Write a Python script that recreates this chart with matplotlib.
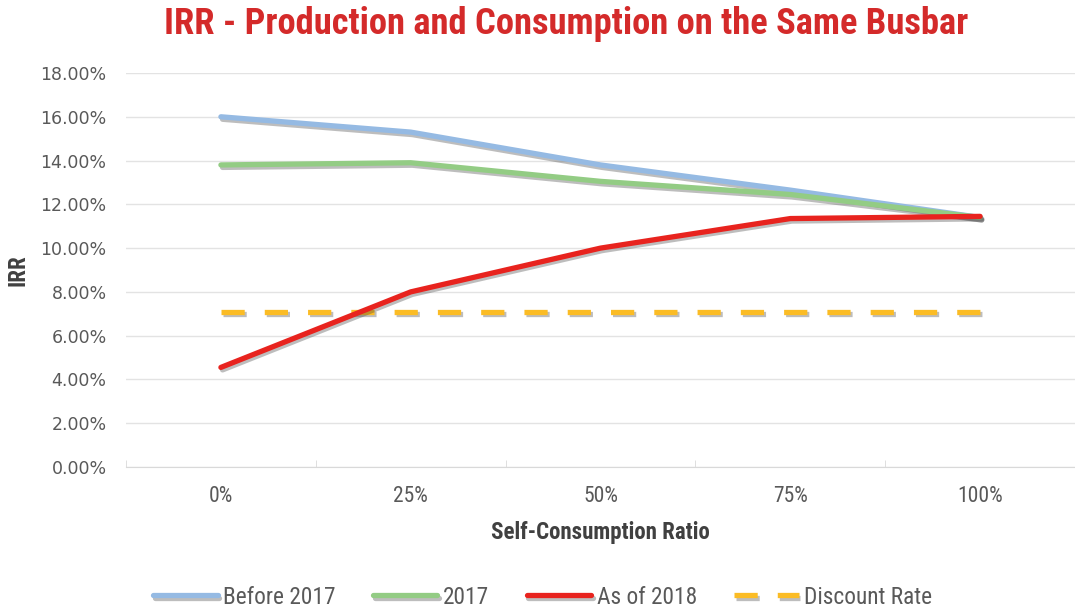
import matplotlib
matplotlib.use("Agg")
import matplotlib.pyplot as plt
import matplotlib.patheffects as pe
from matplotlib import font_manager as fm
from matplotlib.ticker import FuncFormatter

categories = ["0%", "25%", "50%", "75%", "100%"]
before_2017 = [16.0, 15.3, 13.8, 12.65, 11.4]
y2017 = [13.8, 13.9, 13.05, 12.45, 11.4]
as_of_2018 = [4.55, 8.0, 10.0, 11.35, 11.45]
discount_rate = [7.1, 7.1, 7.1, 7.1, 7.1]
yticks = [0, 2, 4, 6, 8, 10, 12, 14, 16, 18]

names = {f.name for f in fm.fontManager.ttflist}
narrow = "Open Sans"
for cand in ["Liberation Sans Narrow", "Roboto Condensed", "Open Sans Condensed"]:
    if cand in names:
        narrow = cand
        break

fig = plt.figure(figsize=(10.75, 6.1), dpi=100)
ax = fig.add_axes([126/1075, 1-467/610, 1-126/1075, (467-73)/610])

x = list(range(len(categories)))
shadow = [pe.SimpleLineShadow(offset=(1.2, -1.8), shadow_color="#444444", alpha=0.35), pe.Normal()]
lw = 3.8
ax.plot(x, before_2017, color="#95BAE3", lw=lw, solid_capstyle="round", path_effects=shadow, label="Before 2017", zorder=3)
ax.plot(x, y2017, color="#93CC84", lw=lw, solid_capstyle="round", path_effects=shadow, label="2017", zorder=4)
ax.plot(x, as_of_2018, color="#E8231E", lw=lw, solid_capstyle="round", path_effects=shadow, label="As of 2018", zorder=5)
ax.plot(x, discount_rate, color="#FBBC25", lw=lw, dashes=(4.4, 3.8), dash_capstyle="butt", path_effects=shadow, label="Discount Rate", zorder=2)

ax.set_xlim(-0.5, 4.5)
ax.set_ylim(0, 18)
ax.set_yticks(yticks)
ax.yaxis.set_major_formatter(FuncFormatter(lambda v, p: f"{v:.2f}%"))
ax.set_xticks(x)
ax.set_xticklabels(categories, fontfamily=narrow, fontsize=15.5, color="#595959")
ax.set_xticks([-0.5, 0.5, 1.5, 2.5, 3.5], minor=True)
ax.tick_params(axis="x", which="major", length=0, pad=14)
ax.tick_params(axis="x", which="minor", length=5, color="#D9D9D9", direction="in")
ax.tick_params(axis="y", length=0, pad=14, labelsize=12.5, labelcolor="#595959")
for t in ax.get_yticklabels():
    t.set_fontfamily("DejaVu Sans")
ax.grid(axis="y", color="#E3E3E3", lw=1)
for s in ["top", "right", "left"]:
    ax.spines[s].set_visible(False)
ax.spines["bottom"].set_color("#D9D9D9")
ax.set_axisbelow(True)

ax.set_xlabel("Self-Consumption Ratio", fontfamily=narrow, fontsize=16.5, fontweight="bold", color="#404040", labelpad=10)
fig.text(18/1075, 1-270/610, "IRR", rotation=90, ha="center", va="center", fontfamily=narrow, fontsize=16.5, fontweight="bold", color="#404040")

fig.text(566/1075, 1-24/610, "IRR - Production and Consumption on the Same Busbar", ha="center", va="center",
         fontfamily=narrow, fontsize=26.3, fontweight="bold", color="#D42A2A")

leg = fig.legend(loc="center", bbox_to_anchor=(543/1075, 1-597/610), ncol=4, frameon=False,
                 prop={"family": narrow, "size": 16.8}, handlelength=2.75, columnspacing=1.6, handletextpad=0.25)
for t in leg.get_texts():
    t.set_color("#595959")

fig.savefig("out.png", dpi=100)
